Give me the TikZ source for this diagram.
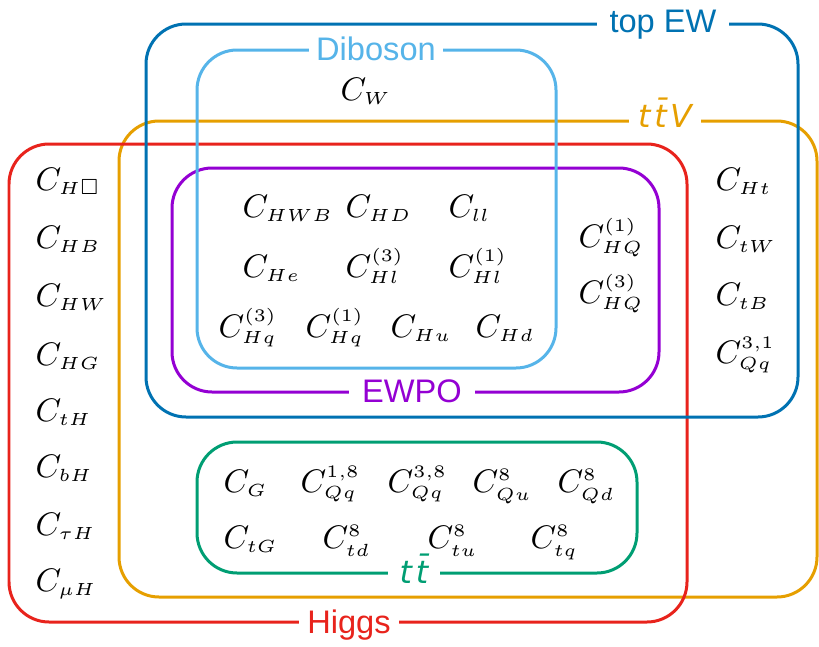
\RequirePackage{fix-cm}
\documentclass[tikz,border=0pt]{standalone}
\usepackage{amssymb}
\usepackage{fontspec}
\setsansfont{Liberation Sans}
\newfontfamily\djv{DejaVu Sans}
\DeclareMathSizes{10}{10}{5.4}{5}
\definecolor{cTop}{HTML}{0072B2}
\definecolor{cDib}{HTML}{56B4E9}
\definecolor{cTtv}{HTML}{E69F00}
\definecolor{cHig}{HTML}{E8231C}
\definecolor{cEw}{HTML}{9400D3}
\definecolor{cTt}{HTML}{009E73}
\begin{document}
\begin{tikzpicture}[x=0.3067pt,y=-0.3067pt,
  font=\fontsize{10}{12}\selectfont,
  setbox/.style={line width=0.92pt, rounded corners=12.3pt},
  coef/.style={anchor=base west, inner sep=0pt},
  lbl/.style={anchor=base, fill=white, inner xsep=3pt, inner ysep=0.5pt,
              font=\fontsize{10}{12}\selectfont\sffamily}]
\useasboundingbox (0,0) rectangle (819,646);
% sets
\draw[setbox, cTtv] (119,121) rectangle (817,597);
\draw[setbox, cHig] (9,144) rectangle (687,622);
\draw[setbox, cTop] (146,24) rectangle (798,417);
\draw[setbox, cEw]  (172,168) rectangle (659,392);
\draw[setbox, cDib] (197,50) rectangle (556,368);
\draw[setbox, cTt]  (197,442) rectangle (637,573);
% labels
\node[lbl, text=cTop, inner xsep=3.7pt] (lTop) at (663,32) {top EW};
\node[lbl, text=cDib, inner xsep=2.1pt] (lDib) at (376,60) {Diboson};
\node[lbl, text=cTtv, inner xsep=2.8pt, font=\fontsize{9.7}{12}\selectfont\djv\itshape] (lTtv) at (665,127) {t\kern1.2pt\=t\kern1pt V};
\node[lbl, text=cEw, inner xsep=4pt] (lEw) at (412,402) {EWPO};
\node[lbl, text=cTt, inner xsep=3.7pt, font=\fontsize{9.7}{12}\selectfont\djv\itshape] (lTt) at (414,583) {t\kern1.2pt\=t};
\node[lbl, text=cHig, inner xsep=2.5pt] (lHig) at (349,633) {Higgs};
% Higgs only column
\node[coef] (hbox) at (35,190) {$C_{H\square}$};
\node[coef] (hb) at (35,248) {$C_{HB}$};
\node[coef] (hw) at (35,306) {$C_{HW}$};
\node[coef] (hg) at (35,365) {$C_{HG}$};
\node[coef] (th) at (35,421) {$C_{tH}$};
\node[coef] (bh) at (35,477) {$C_{bH}$};
\node[coef] (tauh) at (35,535) {$C_{\tau H}$};
\node[coef] (muh) at (35,591) {$C_{\mu H}$};
% Diboson
\node[coef] (w) at (340,100) {$C_{W}$};
% EWPO
\node[coef] (hwb) at (242,217) {$C_{HWB}$};
\node[coef] (hd) at (345,217) {$C_{HD}$};
\node[coef] (ll) at (448,217) {$C_{ll}$};
\node[coef] (he) at (242,277) {$C_{He}$};
\node[coef] (hl3) at (345,277) {$C_{Hl}^{(3)}$};
\node[coef] (hl1) at (448,277) {$C_{Hl}^{(1)}$};
\node[coef] (hq3) at (218,337) {$C_{Hq}^{(3)}$};
\node[coef] (hq1) at (305,337) {$C_{Hq}^{(1)}$};
\node[coef] (hu) at (390,337) {$C_{Hu}$};
\node[coef] (hdd) at (475,337) {$C_{Hd}$};
\node[coef] (hQ1) at (578,247) {$C_{HQ}^{(1)}$};
\node[coef] (hQ3) at (578,303) {$C_{HQ}^{(3)}$};
% top EW right column
\node[coef] (ht) at (715,190) {$C_{Ht}$};
\node[coef] (tw) at (715,248) {$C_{tW}$};
\node[coef] (tb) at (715,305) {$C_{tB}$};
\node[coef] (qq31) at (715,363) {$C_{Qq}^{3,1}$};
% ttbar
\node[coef] (g) at (223,492) {$C_{G}$};
\node[coef] (qq18) at (300,492) {$C_{Qq}^{1,8}$};
\node[coef] (qq38) at (387,492) {$C_{Qq}^{3,8}$};
\node[coef] (qu8) at (472,492) {$C_{Qu}^{8}$};
\node[coef] (qd8) at (557,492) {$C_{Qd}^{8}$};
\node[coef] (tg) at (223,548) {$C_{tG}$};
\node[coef] (td8) at (322,548) {$C_{td}^{8}$};
\node[coef] (tu8) at (427,548) {$C_{tu}^{8}$};
\node[coef] (tq8) at (530,548) {$C_{tq}^{8}$};
\end{tikzpicture}
\end{document}
